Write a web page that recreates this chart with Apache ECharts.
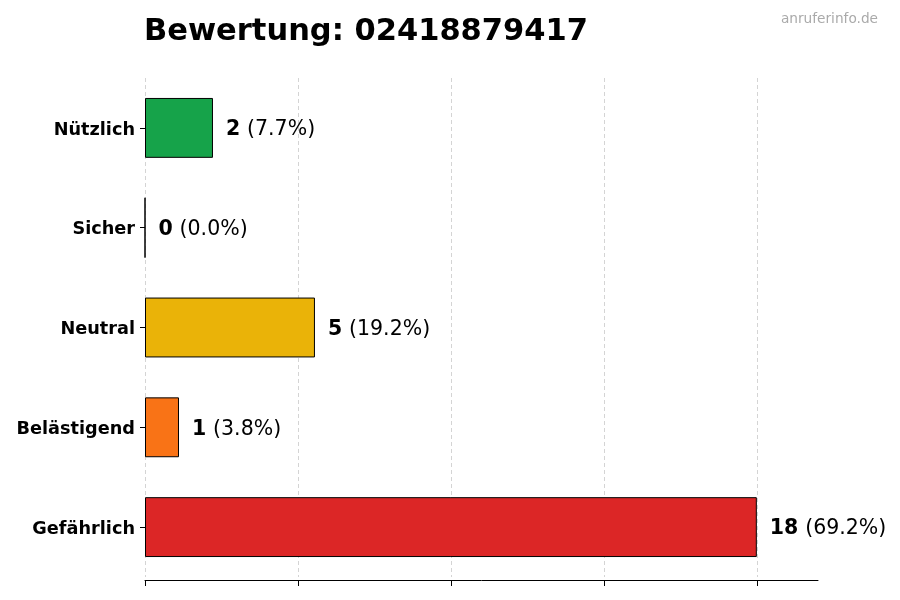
<!DOCTYPE html>
<html><head><meta charset="utf-8">
<script src="https://cdn.jsdelivr.net/npm/echarts@6/dist/echarts.min.js"></script>
<style>html,body{margin:0;padding:0;background:#fff}#c{width:900px;height:600px}</style>
</head><body><div id="c"></div>
<script>
const categories = ['Nützlich', 'Sicher', 'Neutral', 'Belästigend', 'Gefährlich'];
const counts = [2, 0, 5, 1, 18];
const colors = ['#16a34a', '#eab308', '#eab308', '#f97316', '#dc2626'];
const xTicks = [0, 4.5, 9, 13.5, 18];
const titleText = 'Bewertung: 02418879417';
const watermark = 'anruferinfo.de';

const total = counts.reduce((a, b) => a + b, 0);
const FONT = 'DejaVu Sans';
const chart = echarts.init(document.getElementById('c'), null, {renderer: 'canvas'});
chart.setOption({
  animation: false,
  backgroundColor: '#fff',
  textStyle: {fontFamily: FONT},
  title: [{
    text: titleText, left: 139, top: 12,
    textStyle: {fontFamily: FONT, fontSize: 30.5, fontWeight: 'bold', color: '#000'}
  }, {
    text: watermark, right: 17, top: 7,
    textStyle: {fontFamily: FONT, fontSize: 13.7, fontWeight: 'normal', color: '#aaaaaa'}
  }],
  grid: {left: 145, right: 82, top: 78, bottom: 23, containLabel: false},
  xAxis: {
    type: 'value', min: 0, max: 19.8, interval: 4.5, offset: 3,
    axisLine: {show: true, lineStyle: {color: '#000', width: 1}},
    axisTick: {show: true, length: 6, lineStyle: {color: '#000'}, customValues: xTicks},
    axisLabel: {show: false},
    splitLine: {show: true, lineStyle: {color: '#d4d4d4', type: [4, 3], width: 1}}
  },
  yAxis: {
    type: 'category', data: categories, inverse: true,
    axisLine: {show: false},
    axisTick: {show: true, alignWithLabel: true, length: 5, lineStyle: {color: '#000'}},
    axisLabel: {
      margin: 10, color: '#000',
      formatter: v => '{a|' + v + '}',
      rich: {a: {fontFamily: FONT, fontSize: 17.7, fontWeight: 'bold', color: '#000', padding: [4, 0, 0, 0]}}
    },
    splitLine: {show: false}
  },
  series: [{
    type: 'bar', barWidth: '60%',
    data: counts.map((v, i) => ({value: v, itemStyle: {color: colors[i]}})),
    itemStyle: {borderColor: '#000', borderWidth: 1},
    label: {
      show: true, position: 'right', distance: 12, offset: [1, 2],
      formatter: p => '{b|' + p.value + '} {n|(' + (p.value / total * 100).toFixed(1) + '%)}',
      rich: {
        b: {fontFamily: FONT, fontSize: 20.5, fontWeight: 'bold', color: '#000'},
        n: {fontFamily: FONT, fontSize: 20.5, color: '#000', padding: [0, 0, 0, 3]}
      }
    }
  }]
});
</script></body></html>
